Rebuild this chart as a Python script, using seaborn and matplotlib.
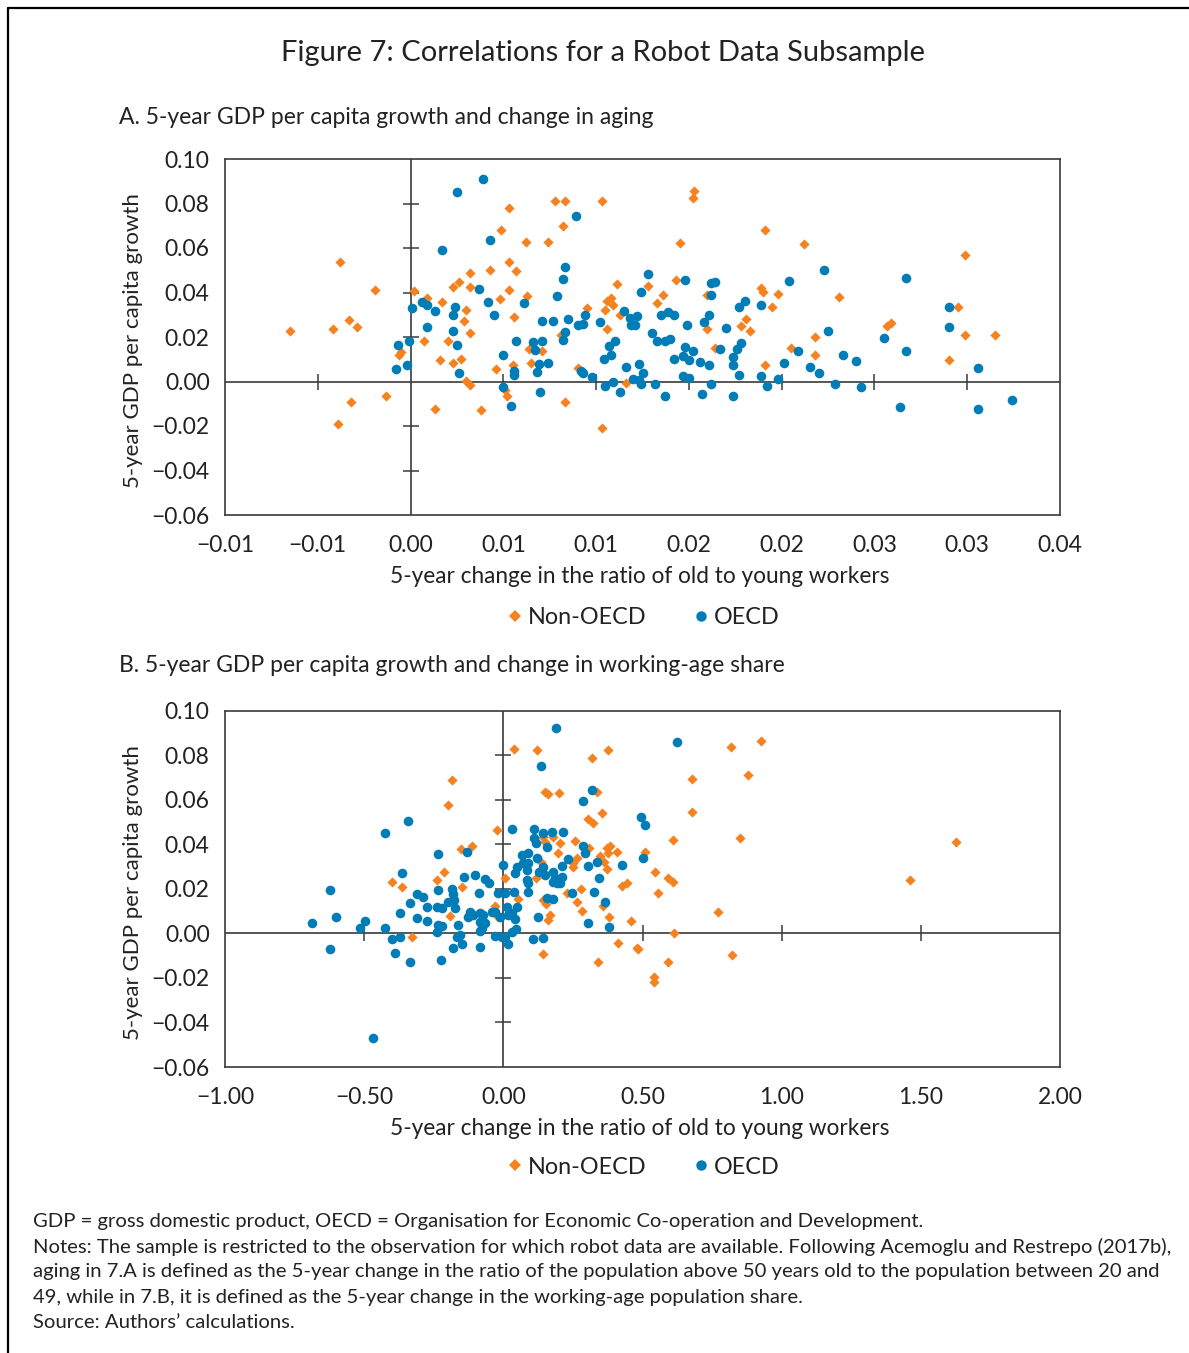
import numpy as np
import pandas as pd
import matplotlib
matplotlib.use('Agg')
import matplotlib.pyplot as plt
from matplotlib.lines import Line2D
import seaborn as sns

# Panel A: 5-year change in old/young ratio vs GDP per capita growth
a_non_x = [-0.0065, -0.0038, -0.0042, -0.0033, -0.0029, -0.0019, -0.0032, -0.0039, -0.0013, -0.0005,
           -0.0006, 0.0002, 0.0009, 0.0007, 0.0017, 0.0016, 0.0013, 0.0023, 0.0026, 0.0032,
           0.0032, 0.0030, 0.0029, 0.0032, 0.0020, 0.0023, 0.0027, 0.0030, 0.0032, 0.0038,
           0.0043, 0.0048, 0.0046, 0.0049, 0.0053, 0.0053, 0.0053, 0.0051, 0.0052,
           0.0078, 0.0083, 0.0103, 0.0082, 0.0062, 0.0074, 0.0057, 0.0063, 0.0056, 0.0064,
           0.0071, 0.0065, 0.0055, 0.0083, 0.0090, 0.0095, 0.0106, 0.0108, 0.0109, 0.0105,
           0.0111, 0.0113, 0.0106, 0.0116, 0.0103, 0.0081,
           0.0153, 0.0152, 0.0191, 0.0212, 0.0145, 0.0128, 0.0136, 0.0133, 0.0143, 0.0160,
           0.0160, 0.0164, 0.0189, 0.0190, 0.0198, 0.0195, 0.0181, 0.0178, 0.0183, 0.0191,
           0.0205, 0.0218, 0.0218,
           0.0299, 0.0295, 0.0299, 0.0315, 0.0290, 0.0257, 0.0259, 0.0231]
a_non_y = [0.0226, 0.0536, 0.0237, 0.0277, 0.0244, 0.0413, -0.0093, -0.0190, -0.0066, 0.0132,
           0.0121, 0.0406, 0.0376, 0.0181, 0.0357, 0.0098, -0.0123, 0.0424, 0.0449, 0.0487,
           0.0424, 0.0322, 0.0274, 0.0219, 0.0180, 0.0085, 0.0102, 0.0004, -0.0015, -0.0126,
           0.0503, 0.0369, 0.0057, 0.0682, 0.0781, 0.0539, 0.0413, -0.0040, -0.0063,
           0.0813, 0.0813, 0.0813, 0.0701, 0.0629, 0.0629, 0.0496, 0.0385, 0.0289, 0.0147,
           0.0139, 0.0082, 0.0072, -0.0093, 0.0060, 0.0330, 0.0364, 0.0374, 0.0345, 0.0322,
           0.0439, 0.0301, 0.0237, -0.0006, -0.0208, 0.0211,
           0.0854, 0.0826, 0.0679, 0.0619, 0.0623, 0.0430, 0.0387, 0.0351, 0.0458, 0.0390,
           0.0235, 0.0151, 0.0419, 0.0401, 0.0394, 0.0337, 0.0282, 0.0249, 0.0229, 0.0072,
           0.0151, 0.0199, 0.0121,
           0.0569, 0.0337, 0.0211, 0.0211, 0.0098, 0.0249, 0.0262, 0.0382]

a_oecd_x = [0.0025, 0.0039, 0.0017, 0.0043, 0.0037, 0.0042, 0.0045, 0.0001, 0.0006, 0.0009,
            0.0013, 0.0009, 0.0024, 0.0023, 0.0023, 0.0025, 0.0026, -0.0007, -0.0001, -0.0008,
            -0.0002, 0.0050, 0.0050, 0.0054,
            0.0089, 0.0083, 0.0082, 0.0079, 0.0061, 0.0057, 0.0066, 0.0067, 0.0071, 0.0071,
            0.0077, 0.0085, 0.0083, 0.0082, 0.0090, 0.0093, 0.0094, 0.0102, 0.0069, 0.0074,
            0.0068, 0.0056, 0.0056, 0.0070, 0.0092, 0.0093, 0.0098, 0.0105, 0.0109, 0.0113,
            0.0104, 0.0108, 0.0107, 0.0110, 0.0115, 0.0118, 0.0119, 0.0122, 0.0121, 0.0116,
            0.0120, 0.0123, 0.0124, 0.0123, 0.0124,
            0.0223, 0.0128, 0.0148, 0.0162, 0.0164, 0.0162, 0.0204, 0.0225, 0.0177, 0.0180,
            0.0189, 0.0135, 0.0139, 0.0142, 0.0161, 0.0149, 0.0158, 0.0170, 0.0130, 0.0133,
            0.0137, 0.0140, 0.0148, 0.0152, 0.0147, 0.0150, 0.0142, 0.0167, 0.0176, 0.0174,
            0.0174, 0.0178, 0.0156, 0.0161, 0.0125, 0.0147, 0.0150, 0.0132, 0.0137, 0.0157,
            0.0162, 0.0174, 0.0177, 0.0189, 0.0192, 0.0198, 0.0201, 0.0209, 0.0215, 0.0220,
            0.0267, 0.0290, 0.0290, 0.0267, 0.0255, 0.0264, 0.0306, 0.0306, 0.0324, 0.0240,
            0.0243, 0.0233, 0.0229]
a_oecd_y = [0.0851, 0.0908, 0.0593, 0.0634, 0.0417, 0.0357, 0.0300, 0.0330, 0.0357, 0.0346,
            0.0318, 0.0244, 0.0334, 0.0301, 0.0229, 0.0165, 0.0040, 0.0165, 0.0181, 0.0057,
            0.0076, 0.0121, -0.0025, -0.0112,
            0.0745, 0.0514, 0.0461, 0.0385, 0.0352, 0.0181, 0.0177, 0.0142, 0.0181, 0.0270,
            0.0274, 0.0283, 0.0222, 0.0187, 0.0255, 0.0259, 0.0297, 0.0267, 0.0079, 0.0084,
            0.0043, 0.0049, 0.0031, -0.0045, 0.0049, 0.0039, 0.0022, -0.0018, -0.0003, -0.0048,
            0.0102, 0.0120, 0.0159, 0.0184, 0.0319, 0.0285, 0.0252, 0.0294, 0.0256, 0.0064,
            0.0012, 0.0008, 0.0401, 0.0079, -0.0010,
            0.0502, 0.0481, 0.0454, 0.0444, 0.0446, 0.0387, 0.0451, 0.0225, 0.0337, 0.0363,
            0.0342, 0.0300, 0.0311, 0.0297, 0.0301, 0.0253, 0.0267, 0.0240, 0.0217, 0.0183,
            0.0181, 0.0193, 0.0157, 0.0135, 0.0114, 0.0098, 0.0099, 0.0147, 0.0144, 0.0112,
            0.0075, 0.0175, 0.0089, 0.0075, 0.0040, 0.0024, 0.0017, -0.0010, -0.0067, -0.0058,
            -0.0010, -0.0067, 0.0031, 0.0025, -0.0021, 0.0009, 0.0084, 0.0139, 0.0064, 0.0039,
            0.0464, 0.0337, 0.0244, 0.0136, 0.0195, -0.0116, 0.0060, -0.0124, -0.0085, 0.0094,
            -0.0026, 0.0121, -0.0013]

# Panel B: 5-year change in working-age share vs GDP per capita growth
b_non_x = [-0.185, 0.038, 0.120, 0.150, 0.162, 0.377, 0.320, 0.336, 0.201,
           -0.200, -0.401, -0.363, -0.327, -0.239, -0.213, -0.152, -0.114, -0.147, -0.192,
           -0.022, 0.006, -0.030, -0.018, 0.054, 0.118, 0.136, 0.144, 0.152, 0.168,
           0.162, 0.144, 0.144, 0.180, 0.150, 0.204, 0.198, 0.258, 0.264, 0.252,
           0.249, 0.309, 0.228, 0.279, 0.264, 0.284, 0.305, 0.323, 0.354, 0.347,
           0.362, 0.377, 0.383, 0.372, 0.372, 0.407, 0.357, 0.381, 0.425, 0.446,
           0.458, 0.411, 0.479, 0.485, 0.341, 0.509, 0.545, 0.557,
           0.818, 0.927, 0.879, 0.679, 0.677, 0.850, 0.609, 1.627, 1.461, 0.593,
           0.609, 0.773, 0.614, 0.821, 0.591, 0.541, 0.541]
b_non_y = [0.0690, 0.0828, 0.0825, 0.0637, 0.0627, 0.0825, 0.0787, 0.0637, 0.0630,
           0.0578, 0.0233, 0.0210, -0.0017, 0.0240, 0.0278, 0.0378, 0.0395, 0.0210, 0.0079,
           0.0465, 0.0248, 0.0124, 0.0076, 0.0154, 0.0248, 0.0323, 0.0151, 0.0133, 0.0083,
           0.0061, -0.0093, 0.0432, 0.0435, 0.0413, 0.0405, 0.0360, 0.0417, 0.0338, 0.0316,
           0.0300, 0.0383, 0.0181, 0.0199, 0.0143, 0.0101, 0.0513, 0.0498, 0.0543, 0.0348,
           0.0323, 0.0360, 0.0393, 0.0383, 0.0289, 0.0368, 0.0124, 0.0073, 0.0213, 0.0226,
           0.0058, -0.0044, -0.0067, -0.0071, -0.0129, 0.0365, 0.0278, 0.0181,
           0.0837, 0.0867, 0.0711, 0.0693, 0.0545, 0.0431, 0.0420, 0.0411, 0.0239, 0.0248,
           0.0230, 0.0098, 0.0004, -0.0097, -0.0127, -0.0197, -0.0217]

b_oecd_x = [-0.688, -0.623, -0.602, -0.623, -0.515, -0.497, -0.468, 0.134, 0.189, 0.318, 0.623,
            -0.425, -0.341, -0.235, -0.129, -0.365, -0.309, -0.287, -0.335, -0.275, -0.371,
            -0.311, -0.275, -0.425, -0.401, -0.371, -0.389, -0.335, -0.235, -0.185, -0.182,
            -0.177, -0.198, -0.237, -0.221, -0.174, -0.234, -0.221, -0.237, -0.162, -0.156,
            -0.167, -0.149, -0.180, -0.224, -0.141, -0.102, -0.066, -0.050, -0.087, -0.120,
            -0.108, -0.126, -0.084, -0.072, -0.084, -0.066, -0.042, -0.030, -0.078, -0.084,
            -0.084, -0.030, -0.012, -0.018, 0.006, 0.040, -0.002, 0.042, 0.048, 0.032,
            0.012, 0.018, 0.030, 0.048, 0.042, -0.006, 0.006, 0.018, 0.030, 0.046,
            0.066, 0.090, 0.072, 0.090, 0.084, 0.084, 0.090, 0.088, 0.110, 0.110,
            0.118, 0.144, 0.174, 0.216, 0.156, 0.120, 0.144, 0.129, 0.150, 0.180,
            0.186, 0.210, 0.204, 0.192, 0.180, 0.210, 0.231, 0.156, 0.180, 0.126,
            0.106, 0.144, 0.248, 0.285, 0.294, 0.304, 0.336, 0.343, 0.326, 0.365,
            0.303, 0.379, 0.425, 0.287, 0.495, 0.509, 0.503]
b_oecd_y = [0.0049, 0.0196, 0.0073, -0.0070, 0.0023, 0.0058, -0.0468, 0.0754, 0.0922, 0.0645, 0.0862,
            0.0453, 0.0507, 0.0356, 0.0368, 0.0271, 0.0176, 0.0165, 0.0136, 0.0120, 0.0094,
            0.0068, 0.0058, 0.0026, -0.0026, -0.0014, -0.0089, -0.0129, 0.0196, 0.0199, 0.0178,
            0.0151, 0.0143, 0.0120, 0.0116, 0.0113, 0.0038, 0.0034, 0.0005, 0.0038, -0.0007,
            -0.0017, -0.0047, -0.0067, -0.0119, 0.0255, 0.0263, 0.0244, 0.0228, 0.0181, 0.0098,
            0.0083, 0.0076, 0.0091, 0.0083, 0.0053, 0.0046, 0.0098, 0.0098, 0.0023, 0.0013,
            -0.0059, -0.0011, 0.0076, 0.0181, 0.0181, 0.0188, 0.0308, 0.0271, 0.0298, 0.0470,
            0.0120, 0.0083, 0.0091, 0.0118, 0.0064, -0.0014, -0.0014, -0.0047, 0.0008, 0.0020,
            0.0353, 0.0360, 0.0316, 0.0316, 0.0285, 0.0240, 0.0226, 0.0188, 0.0468, 0.0428,
            0.0405, 0.0450, 0.0458, 0.0458, 0.0390, 0.0338, 0.0300, 0.0278, 0.0263, 0.0278,
            0.0248, 0.0255, 0.0226, 0.0228, 0.0233, 0.0303, 0.0333, 0.0158, 0.0154, 0.0076,
            -0.0026, -0.0019, 0.0183, 0.0395, 0.0360, 0.0303, 0.0323, 0.0248, 0.0188, 0.0143,
            0.0049, 0.0031, 0.0307, 0.0597, 0.0522, 0.0488, 0.0338]

# ticks and labels
y_ticks = [-0.06, -0.04, -0.02, 0.00, 0.02, 0.04, 0.06, 0.08, 0.10]
y_labels = ['\u22120.06', '\u22120.04', '\u22120.02', '0.00', '0.02', '0.04', '0.06', '0.08', '0.10']
a_x_ticks = [-0.01, -0.005, 0.0, 0.005, 0.01, 0.015, 0.02, 0.025, 0.03, 0.035]
a_x_labels = ['\u22120.01', '\u22120.01', '0.00', '0.01', '0.01', '0.02', '0.02', '0.03', '0.03', '0.04']
b_x_ticks = [-1.0, -0.5, 0.0, 0.5, 1.0, 1.5, 2.0]
b_x_labels = ['\u22121.00', '\u22120.50', '0.00', '0.50', '1.00', '1.50', '2.00']

ORANGE = '#F58220'
BLUE = '#007DB7'
AXC = '#3a3a3a'
TXT = '#222222'

sns.set_style('white')
plt.rcParams['font.family'] = ['Lato', 'DejaVu Sans']
plt.rcParams['text.color'] = TXT
plt.rcParams['axes.labelcolor'] = TXT
plt.rcParams['xtick.color'] = TXT
plt.rcParams['ytick.color'] = TXT

fig = plt.figure(figsize=(11.89, 13.53), dpi=100)


def panel(ax, non_x, non_y, oecd_x, oecd_y, x_ticks, x_labels, legend_y):
    ax.axhline(0, color=AXC, lw=1.2, zorder=1)
    ax.axvline(0, color=AXC, lw=1.2, zorder=1)
    # small cross ticks along the zero lines
    inner_x = [t for t in x_ticks[1:-1] if t != 0]
    inner_y = [t for t in y_ticks[1:-1] if t != 0]
    ax.plot(inner_x, [0] * len(inner_x), ls='none', marker='|', ms=11, mew=1.1, color=AXC, zorder=1)
    ax.plot([0] * len(inner_y), inner_y, ls='none', marker='_', ms=12, mew=1.1, color=AXC, zorder=1)

    non = pd.DataFrame({'x': non_x, 'y': non_y})
    oecd = pd.DataFrame({'x': oecd_x, 'y': oecd_y})
    sns.scatterplot(data=non, x='x', y='y', ax=ax, marker='D', s=27, color=ORANGE,
                    linewidth=0, legend=False, zorder=3)
    sns.scatterplot(data=oecd, x='x', y='y', ax=ax, marker='o', s=48, color=BLUE,
                    linewidth=0, legend=False, zorder=4)

    ax.set_xlim(x_ticks[0], x_ticks[-1])
    ax.set_ylim(y_ticks[0], y_ticks[-1])
    ax.set_xticks(x_ticks)
    ax.set_xticklabels(x_labels)
    ax.set_yticks(y_ticks)
    ax.set_yticklabels(y_labels)
    ax.tick_params(axis='both', direction='out', length=6, width=1.1, colors=AXC,
                   labelcolor=TXT, labelsize=16.5, pad=5)
    ax.tick_params(axis='x', pad=8.5)
    for sp in ax.spines.values():
        sp.set_visible(True)
        sp.set_color(AXC)
        sp.set_linewidth(1.2)

    ax.set_xlabel('5-year change in the ratio of old to young workers', fontsize=16.3)
    ax.set_ylabel('5-year GDP per capita growth', fontsize=16)
    ax.xaxis.set_label_coords(0.497, -0.143)
    ax.yaxis.set_label_coords(-0.098, 0.49)

    handles = [Line2D([], [], ls='none', marker='D', ms=6.5, color=ORANGE, mew=0),
               Line2D([], [], ls='none', marker='o', ms=7.5, color=BLUE, mew=0)]
    ax.legend(handles, ['Non-OECD', 'OECD'], loc='center', bbox_to_anchor=(0.5, legend_y),
              ncol=2, frameon=False, fontsize=16.8, handletextpad=0.15, columnspacing=1.95,
              handlelength=0.8)


ax_a = fig.add_axes([225 / 1189, 1 - 515 / 1353, 835 / 1189, 356 / 1353])
panel(ax_a, a_non_x, a_non_y, a_oecd_x, a_oecd_y, a_x_ticks, a_x_labels, -0.289)
ax_b = fig.add_axes([225 / 1189, 1 - 1067 / 1353, 835 / 1189, 356 / 1353])
panel(ax_b, b_non_x, b_non_y, b_oecd_x, b_oecd_y, b_x_ticks, b_x_labels, -0.281)

fig.text(603 / 1189, 1 - 53 / 1353, 'Figure 7: Correlations for a Robot Data Subsample',
         ha='center', va='center', fontsize=21)
fig.text(119 / 1189, 1 - 117 / 1353, 'A. 5-year GDP per capita growth and change in aging',
         ha='left', va='center', fontsize=16.5)
fig.text(119 / 1189, 1 - 666 / 1353, 'B. 5-year GDP per capita growth and change in working-age share',
         ha='left', va='center', fontsize=16.5)

notes = [
    'GDP = gross domestic product, OECD = Organisation for Economic Co-operation and Development.',
    'Notes: The sample is restricted to the observation for which robot data are available. Following Acemoglu and Restrepo (2017b),',
    'aging in 7.A is defined as the 5-year change in the ratio of the population above 50 years old to the population between 20 and',
    '49, while in 7.B, it is defined as the 5-year change in the working-age population share.',
    'Source: Authors\u2019 calculations.',
]
for i, line in enumerate(notes):
    fig.text(33 / 1189, 1 - (1221 + i * 25.5) / 1353, line, ha='left', va='center', fontsize=14.55)

# frame lines on the left and top edge
fig.add_artist(Line2D([8 / 1189, 8 / 1189], [0, 1 - 8 / 1353], transform=fig.transFigure,
                      color='black', lw=1.6))
fig.add_artist(Line2D([8 / 1189, 1], [1 - 8 / 1353, 1 - 8 / 1353], transform=fig.transFigure,
                      color='black', lw=1.6))

fig.savefig('out.png', dpi=100)
